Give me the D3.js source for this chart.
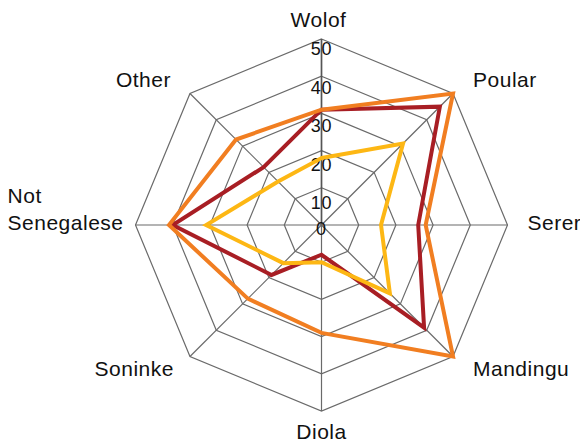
<!DOCTYPE html>
<html>
<head>
<meta charset="utf-8">
<script src="https://cdn.jsdelivr.net/npm/d3@7"></script>
<style>
  html, body { margin: 0; padding: 0; background: #fff; }
  svg { display: block; }
  text { font-family: "Liberation Sans", Arial, sans-serif; fill: #111; }
</style>
</head>
<body>
<svg id="chart" width="580" height="445"></svg>
<script>
// Axes of the radar, clockwise from the top
const categories = ["Wolof", "Poular", "Serer", "Mandingu", "Diola", "Soninke", "Not Senegalese", "Other"];

// Share (%) per group, one value per axis
const seriesDark   = [31, 45, 26, 39, 8, 19, 40, 22];
const seriesOrange = [31, 50, 28, 50, 29, 28, 41, 32.5];
const seriesGold   = [18, 31, 16, 26, 10, 14.5, 31, 16.5];

const tickValues = [0, 10, 20, 30, 40, 50];

const series = [
  { values: seriesDark,   color: "#a81e24" },
  { values: seriesOrange, color: "#f17e21" },
  { values: seriesGold,   color: "#fdb714" }
];

const svg = d3.select("#chart");
const cx = 321.5, cy = 225, R = 186;
const n = categories.length;

const r = d3.scaleLinear().domain([0, 50]).range([0, R]);
const angle = d3.scaleLinear().domain([0, n]).range([0, 2 * Math.PI]);

const pt = (i, v) => {
  const a = angle(i);
  return [cx + r(v) * Math.sin(a), cy - r(v) * Math.cos(a)];
};

const g = svg.append("g");

// Octagonal grid rings
const ringLine = d3.line();
tickValues.filter(t => t > 0).forEach(t => {
  const pts = d3.range(n).map(i => pt(i, t));
  g.append("path")
    .attr("d", ringLine(pts) + "Z")
    .attr("fill", "none")
    .attr("stroke", "#6a6a6a")
    .attr("stroke-width", 1.2);
});

// Spokes
d3.range(n).forEach(i => {
  const [x, y] = pt(i, 50);
  g.append("line")
    .attr("x1", cx).attr("y1", cy)
    .attr("x2", x).attr("y2", y)
    .attr("stroke", i === 0 ? "#555" : "#6a6a6a")
    .attr("stroke-width", i === 0 ? 1.7 : 1.2);
});

// Tick labels along the top axis
const tickLabelPos = d3.scaleLinear().domain([0, 50]).range([-16, 176]);
g.selectAll(".tick")
  .data(tickValues)
  .join("text")
  .attr("class", "tick")
  .attr("x", cx)
  .attr("y", d => Math.min(cy - tickLabelPos(d), cy + 4))
  .attr("dy", "0.36em")
  .attr("text-anchor", "middle")
  .style("font-size", "18px")
  .style("letter-spacing", "0.8px")
  .text(d => d);

// Series outlines
const radarLine = d3.line();
series.forEach(s => {
  const pts = s.values.map((v, i) => pt(i, v));
  g.append("path")
    .attr("d", radarLine(pts) + "Z")
    .attr("fill", "none")
    .attr("stroke", s.color)
    .attr("stroke-width", 4)
    .attr("stroke-linejoin", "miter");
});

// Category labels: offset from each outer vertex
const labelLayout = [
  { dx: -3,  dy: -12, anchor: "middle" },
  { dx: 20,  dy: -6,  anchor: "start" },
  { dx: 20,  dy: 5,   anchor: "start" },
  { dx: 20,  dy: 19,  anchor: "start" },
  { dx: 0,   dy: 28,  anchor: "middle" },
  { dx: -16, dy: 19,  anchor: "end" },
  { dx: -12, dy: 5,   anchor: "end" },
  { dx: -19, dy: -6,  anchor: "end" }
];

categories.forEach((c, i) => {
  const [x, y] = pt(i, 50);
  const L = labelLayout[i];
  const words = c.split(" ");
  const t = g.append("text")
    .attr("y", y + L.dy)
    .style("font-size", "21px")
    .style("letter-spacing", "0.5px");
  const spans = words.map((w, k) =>
    t.append("tspan")
      .attr("dy", k === 0 ? -(words.length - 1) * 27 : 27)
      .text(w));
  if (words.length > 1) {
    // multi-line block: right edge at the anchor point, lines left-aligned
    const maxW = d3.max(spans, s => s.node().getComputedTextLength());
    t.attr("text-anchor", "start");
    spans.forEach(s => s.attr("x", x + L.dx - maxW));
  } else {
    t.attr("text-anchor", L.anchor);
    spans.forEach(s => s.attr("x", x + L.dx));
  }
});
</script>
</body>
</html>
